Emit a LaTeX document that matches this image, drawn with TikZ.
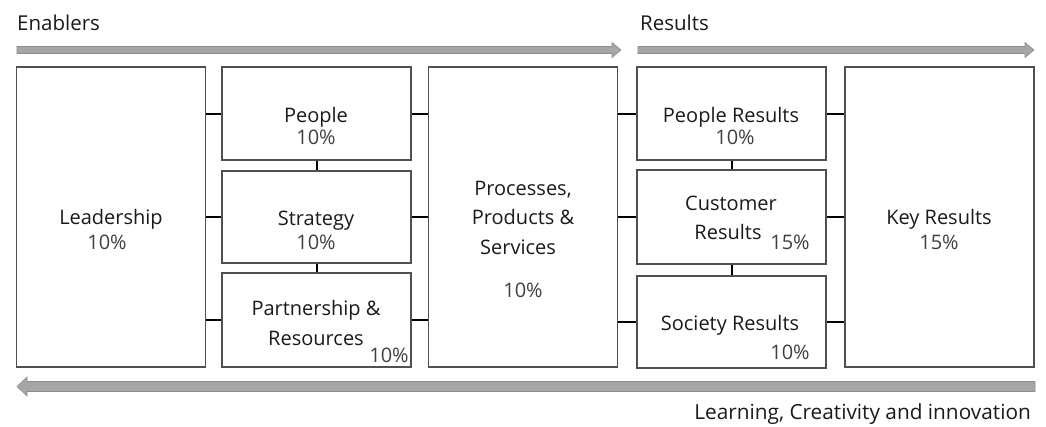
\documentclass[tikz,border=0pt]{standalone}
\usepackage{fontspec}
\setmainfont{Open Sans}
\definecolor{boxline}{HTML}{505050}
\definecolor{arrfill}{HTML}{A6A6A6}
\definecolor{arredge}{HTML}{8C8C8C}
\definecolor{lbl}{HTML}{1A1A1A}
\definecolor{pct}{HTML}{404040}
\begin{document}
\begin{tikzpicture}[x=1pt,y=-1pt,
  box/.style={draw=boxline,line width=1.3pt,rectangle,inner sep=0pt,minimum width=189pt},
  conn/.style={draw=black,line width=2pt},
  lab/.style={text=lbl,font=\fontsize{20}{24}\selectfont,inner sep=0pt,anchor=base},
  pc/.style={text=pct,font=\fontsize{20}{24}\selectfont,inner sep=0pt,anchor=base},
  bigarrow/.style={fill=arrfill,draw=arredge,line width=0.6pt}]
\useasboundingbox (0,0) rectangle (1046,426);
% boxes
\node[box,minimum height=300pt] (lead) at (111,217) {};
\node[box,minimum height=93pt] (people) at (316.5,113.5) {};
\node[box,minimum height=92pt] (strat) at (316.5,217) {};
\node[box,minimum height=94pt] (partner) at (316.5,320) {};
\node[box,minimum height=300pt] (proc) at (523,217) {};
\node[box,minimum height=93pt] (presults) at (731.5,113.5) {};
\node[box,minimum height=94pt] (cust) at (731.5,217) {};
\node[box,minimum height=92pt] (soc) at (731.5,322) {};
\node[box,minimum height=300pt] (key) at (939.5,217) {};
% connectors
\draw[conn] (lead.east |- people.west) -- (people.west);
\draw[conn] (lead.east |- strat.west) -- (strat.west);
\draw[conn] (lead.east |- partner.west) -- (partner.west);
\draw[conn] (people.south) -- (strat.north);
\draw[conn] (strat.south) -- (partner.north);
\draw[conn] (people.east) -- (proc.west |- people.east);
\draw[conn] (strat.east) -- (proc.west |- strat.east);
\draw[conn] (partner.east) -- (proc.west |- partner.east);
\draw[conn] (proc.east |- presults.west) -- (presults.west);
\draw[conn] (proc.east |- cust.west) -- (cust.west);
\draw[conn] (proc.east |- soc.west) -- (soc.west);
\draw[conn] (presults.south) -- (cust.north);
\draw[conn] (cust.south) -- (soc.north);
\draw[conn] (presults.east) -- (key.west |- presults.east);
\draw[conn] (cust.east) -- (key.west |- cust.east);
\draw[conn] (soc.east) -- (key.west |- soc.east);
% arrows
\draw[bigarrow] (17,46.5) -- (612,46.5) -- (612,42.5) -- (621,50) -- (612,57.5) -- (612,53.5) -- (17,53.5) -- cycle;
\draw[bigarrow] (638,46.5) -- (1025,46.5) -- (1025,42.5) -- (1034,50) -- (1025,57.5) -- (1025,53.5) -- (638,53.5) -- cycle;
\draw[bigarrow] (1035,381.5) -- (27,381.5) -- (27,377) -- (17,386.5) -- (27,396) -- (27,391.5) -- (1035,391.5) -- cycle;
% titles
\node[lab,anchor=base west,font=\fontsize{20.5}{24}\selectfont] (enab) at (17,30) {Enablers};
\node[lab,anchor=base west,font=\fontsize{20.5}{24}\selectfont] (res) at (640,30) {Results};
\node[lab,anchor=base east,font=\fontsize{20.8}{24}\selectfont] (learn) at (1031,419) {Learning, Creativity and innovation};
% labels
\node[lab] (t1) at (111,224) {Leadership};
\node[pc] (p1) at (107,249) {10\%};
\node[lab] (t2) at (316,122) {People};
\node[pc] (p2) at (316,144) {10\%};
\node[lab] (t3) at (316,225) {Strategy};
\node[pc] (p3) at (316,249) {10\%};
\node[lab] (t4a) at (316,315) {Partnership \&};
\node[lab] (t4b) at (316,345) {Resources};
\node[pc] (p4) at (389,362) {10\%};
\node[lab] (t5a) at (523,195) {Processes,};
\node[lab] (t5b) at (523,224) {Products \&};
\node[lab] (t5c) at (518,254) {Services};
\node[pc] (p5) at (523,297) {10\%};
\node[lab] (t6) at (731,122) {People Results};
\node[pc] (p6) at (735,144) {10\%};
\node[lab] (t7a) at (731,210) {Customer};
\node[lab] (t7b) at (728,239) {Results};
\node[pc] (p7) at (790,249) {15\%};
\node[lab] (t8) at (730,330) {Society Results};
\node[pc] (p8) at (790,359) {10\%};
\node[lab] (t9) at (939,224) {Key Results};
\node[pc] (p9) at (939,249) {15\%};
\end{tikzpicture}
\end{document}
